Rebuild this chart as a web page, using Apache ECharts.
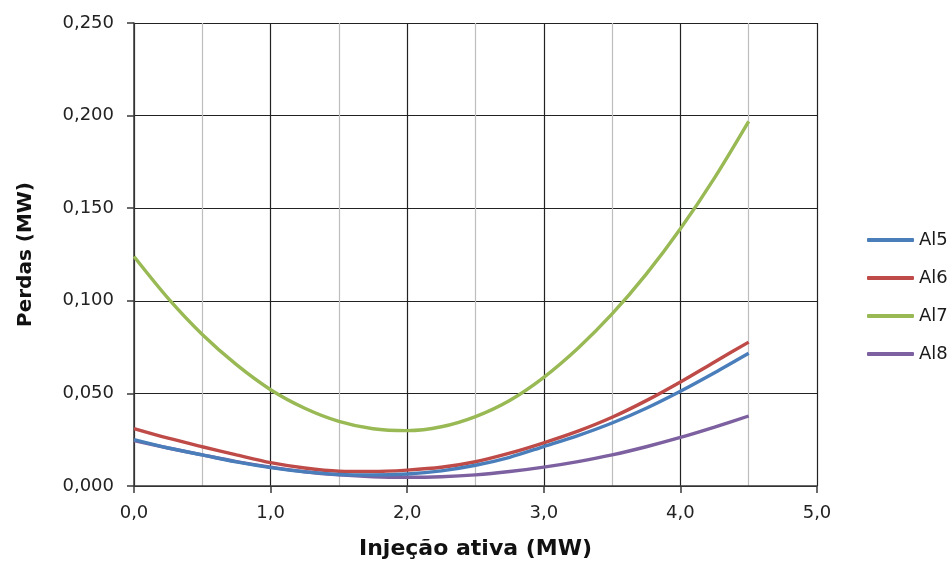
<!DOCTYPE html>
<html>
<head>
<meta charset="utf-8">
<script src="https://cdn.jsdelivr.net/npm/echarts@6/dist/echarts.min.js"></script>
<style>
  html, body { margin: 0; padding: 0; background: #fff; }
  #chart { width: 950px; height: 565px; }
</style>
</head>
<body>
<div id="chart"></div>
<script>
// Active injection (MW) at which losses were evaluated
var injecao = [0, 0.25, 0.5, 0.75, 1.0, 1.25, 1.5, 1.75, 2.0, 2.25,
               2.5, 2.75, 3.0, 3.25, 3.5, 3.75, 4.0, 4.25, 4.5];

// Losses (MW) per feeder
var al5 = [0.0250, 0.0205, 0.0168, 0.0130, 0.0099, 0.0076, 0.0062, 0.0059, 0.0065, 0.0082,
           0.0112, 0.0155, 0.0213, 0.0272, 0.0340, 0.0420, 0.0512, 0.0612, 0.0717];
var al6 = [0.0310, 0.0258, 0.0212, 0.0168, 0.0126, 0.0097, 0.0080, 0.0078, 0.0086, 0.0101,
           0.0131, 0.0177, 0.0233, 0.0296, 0.0371, 0.0461, 0.0562, 0.0670, 0.0777];
var al7 = [0.1239, 0.1013, 0.0818, 0.0655, 0.0520, 0.0420, 0.0349, 0.0309, 0.0299, 0.0320,
           0.0375, 0.0462, 0.0587, 0.0744, 0.0929, 0.1144, 0.1389, 0.1664, 0.1969];
var al8 = [0.0245, 0.0205, 0.0168, 0.0132, 0.0102, 0.0077, 0.0060, 0.0050, 0.0047, 0.0050,
           0.0060, 0.0078, 0.0102, 0.0132, 0.0168, 0.0212, 0.0262, 0.0318, 0.0378];

var seriesNames = ['Al5', 'Al6', 'Al7', 'Al8'];
var seriesColors = ['#4A7EBB', '#BE4B48', '#98B954', '#7D60A0'];
var seriesValues = [al5, al6, al7, al8];

function pairs(xs, ys) {
  return xs.map(function (x, i) { return [x, ys[i]]; });
}

function fmt(v, digits) {
  return v.toFixed(digits).replace('.', ',');
}

var FONT = 'DejaVu Sans';

var chart = echarts.init(document.getElementById('chart'), null, { renderer: 'canvas' });

chart.setOption({
  backgroundColor: '#ffffff',
  animation: false,
  grid: { left: 134, right: 133, top: 23, bottom: 79, containLabel: false },
  legend: {
    orient: 'vertical',
    left: 862,
    top: 226,
    itemWidth: 47,
    itemHeight: 4,
    itemGap: 20,
    icon: 'roundRect',
    textStyle: { fontFamily: FONT, fontSize: 18, color: '#1a1a1a' },
    data: seriesNames
  },
  xAxis: {
    type: 'value',
    min: 0,
    max: 5,
    interval: 1,
    name: 'Injeção ativa (MW)',
    nameLocation: 'middle',
    nameGap: 52,
    nameTextStyle: { fontFamily: FONT, fontSize: 22, fontWeight: 'bold', color: '#111' },
    axisLine: { show: true, onZero: false, lineStyle: { color: '#3a3a3a', width: 1.5 } },
    axisTick: { show: true, length: 7, lineStyle: { color: '#3a3a3a', width: 1.5 } },
    axisLabel: {
      margin: 18,
      fontFamily: FONT, fontSize: 18, color: '#222',
      formatter: function (v) { return fmt(v, 1); }
    },
    splitLine: { show: true, lineStyle: { color: '#222', width: 1.2 } },
    minorTick: { show: false, splitNumber: 2 },
    minorSplitLine: { show: true, lineStyle: { color: '#bdbdbd', width: 1.2 } }
  },
  yAxis: {
    type: 'value',
    min: 0,
    max: 0.25,
    interval: 0.05,
    name: 'Perdas (MW)',
    nameLocation: 'middle',
    nameGap: 98,
    nameTextStyle: { fontFamily: FONT, fontSize: 20, fontWeight: 'bold', color: '#111' },
    axisLine: { show: true, lineStyle: { color: '#3a3a3a', width: 1.5 } },
    axisTick: { show: true, length: 7, lineStyle: { color: '#3a3a3a', width: 1.5 } },
    axisLabel: {
      margin: 20,
      fontFamily: FONT, fontSize: 18, color: '#222',
      formatter: function (v) { return fmt(v, 3); }
    },
    splitLine: { show: true, lineStyle: { color: '#222', width: 1.2 } }
  },
  series: seriesNames.map(function (name, i) {
    return {
      name: name,
      type: 'line',
      smooth: 0.3,
      symbol: 'none',
      data: pairs(injecao, seriesValues[i]),
      itemStyle: { color: seriesColors[i] },
      lineStyle: { color: seriesColors[i], width: 3.4 },
      z: 3 + (i === 0 ? 1 : 0)
    };
  })
});
</script>
</body>
</html>
